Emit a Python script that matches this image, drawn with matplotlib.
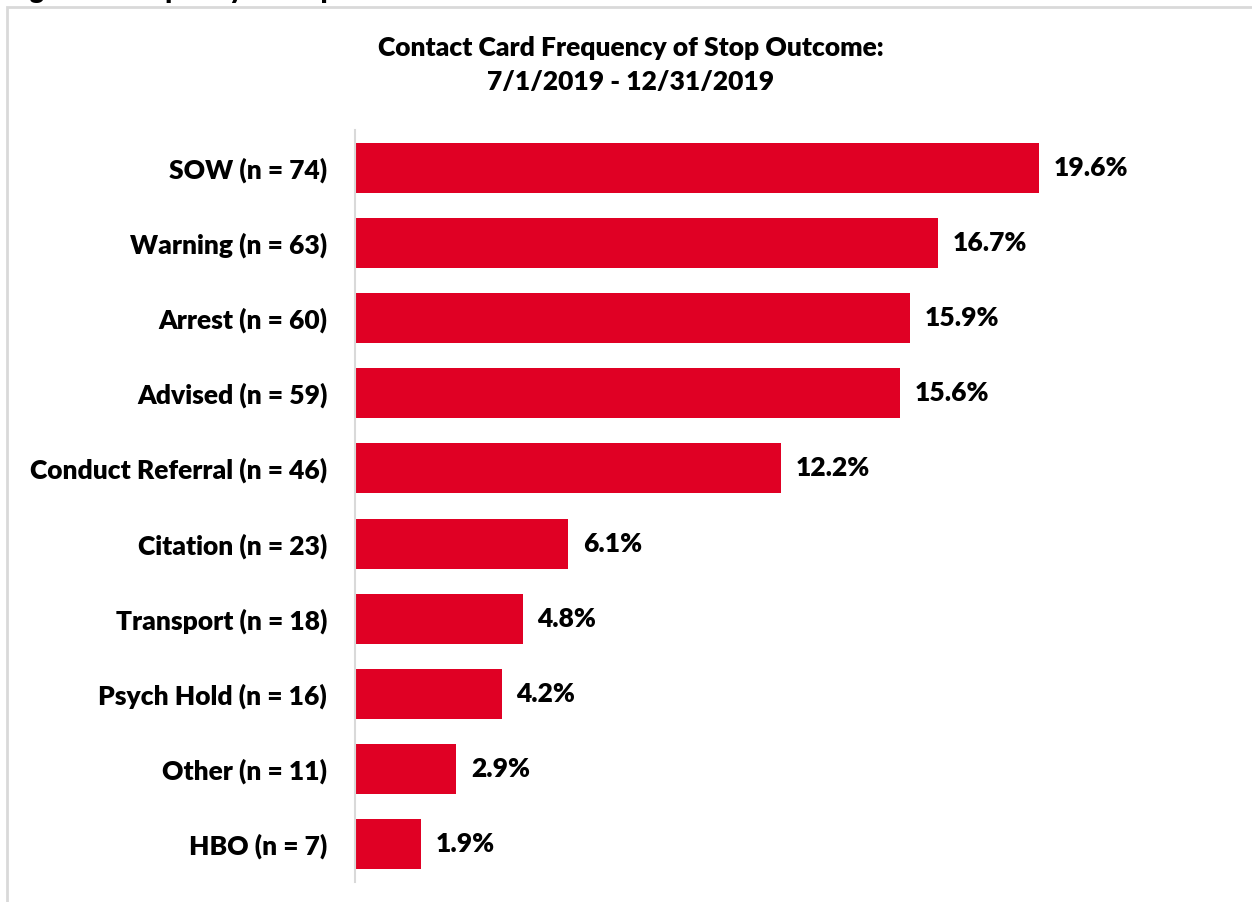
import matplotlib.pyplot as plt
from matplotlib.patches import Rectangle

categories = ['SOW', 'Warning', 'Arrest', 'Advised', 'Conduct Referral',
              'Citation', 'Transport', 'Psych Hold', 'Other', 'HBO']
counts = [74, 63, 60, 59, 46, 23, 18, 16, 11, 7]
pcts = [19.6, 16.7, 15.9, 15.6, 12.2, 6.1, 4.8, 4.2, 2.9, 1.9]

labels = [c + ' (n = ' + str(n) + ')' for c, n in zip(categories, counts)]

plt.rcParams['font.family'] = ['Lato', 'DejaVu Sans']
FS = 19
WT = 'heavy'

W, H = 1252, 902
fig = plt.figure(figsize=(W / 100, H / 100), dpi=100)

# outer border of the chart area (runs off right and bottom)
fig.patches.append(Rectangle((7 / W, -0.1), 1.2, (H - 7) / H + 0.1,
                             transform=fig.transFigure, fill=False,
                             edgecolor='#d9d9d9', linewidth=2))

# caption above the chart, mostly cut off by the top edge
fig.text(8 / W, 1 + 1 / H, 'Figure 8: Frequency of Stop Outcome',
         fontsize=FS, fontweight=WT, va='baseline', ha='left')

ax = fig.add_axes([355 / W, 1 - 882 / H, (1228 - 355) / W, (882 - 130) / H])
ypos = list(range(len(categories)))
ax.barh(ypos, pcts, height=0.667, color='#e00024')
ax.set_ylim(len(categories) - 0.5, -0.5)
ax.set_xlim(0, 25)

for y, p in zip(ypos, pcts):
    ax.text(p + 0.42, y, '%.1f%%' % p, va='center', ha='left',
            fontsize=FS, fontweight=WT)

ax.set_yticks(ypos)
ax.set_yticklabels(labels, fontsize=FS, fontweight=WT)
ax.tick_params(axis='y', length=0, pad=20)
ax.set_xticks([])
for s in ['top', 'right', 'bottom']:
    ax.spines[s].set_visible(False)
ax.spines['left'].set_color('#d9d9d9')
ax.spines['left'].set_linewidth(1.5)

fig.text(631 / W, 1 - 48 / H, 'Contact Card Frequency of Stop Outcome:',
         ha='center', va='center', fontsize=FS, fontweight=WT)
fig.text(631 / W, 1 - 82 / H, '7/1/2019 - 12/31/2019',
         ha='center', va='center', fontsize=FS, fontweight=WT)

fig.savefig('out.png', dpi=100)
